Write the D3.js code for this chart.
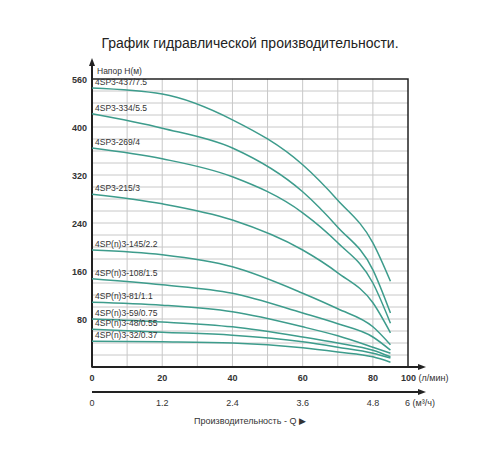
<!DOCTYPE html>
<html><head><meta charset="utf-8">
<script src="https://cdn.jsdelivr.net/npm/d3@7"></script>
<style>body{margin:0;background:#fff}text{font-family:Arial,"Liberation Sans",sans-serif}</style>
</head><body><svg id="c" width="500" height="450"></svg>
<script>
const flows=[0,20,40,60,70,80,85];
const names=["4SP3-437/7.5","4SP3-334/5.5","4SP3-269/4","4SP3-215/3","4SP(n)3-145/2.2","4SP(n)3-108/1.5","4SP(n)3-81/1.1","4SP(n)3-59/0.75","4SP(n)3-48/0.55","4SP(n)3-32/0.37"];
const heads=[
[465,455,412,337,278,207,143],
[422,398,365,292,233,162,90],
[365,347,317,257,207,140,73],
[288,272,245,195,157,107,57],
[195,187,167,123,97,67,37],
[147,137,123,90,72,50,28],
[108,103,92,67,52,33,23],
[80,75,67,50,40,28,17],
[63,58,53,42,33,23,15],
[43,42,40,32,25,17,8]];
const xTicks=[0,20,40,60,80],xTickLabels=["0","20","40","60","80"];
const x2Labels=["0","1.2","2.4","3.6","4.8"];
const yTicks=[80,160,240,320,400,480],yTickLabels=["80","160","240","320","400","560"];

const svg=d3.select("#c");
const x=d3.scaleLinear().domain([0,90]).range([92,408]);
const y=d3.scaleLinear().domain([0,480]).range([367,79]);
const g=svg.append("g");
for(let v=10;v<90;v+=10) g.append("line").attr("x1",x(v)).attr("x2",x(v)).attr("y1",y(0)).attr("y2",y(480)).attr("stroke","#c8c8c8");
for(let v=20;v<480;v+=20) g.append("line").attr("x1",x(0)).attr("x2",x(90)).attr("y1",y(v)).attr("y2",y(v)).attr("stroke","#c8c8c8");
g.append("rect").attr("x",x(0)).attr("y",y(480)).attr("width",x(90)-x(0)).attr("height",y(0)-y(480)).attr("fill","none").attr("stroke","#222").attr("stroke-width",1.5);
g.append("line").attr("x1",x(0)).attr("x2",x(0)).attr("y1",y(0)).attr("y2",62).attr("stroke","#222").attr("stroke-width",2);
g.append("path").attr("d",`M${x(0)-3},66L${x(0)},58L${x(0)+3},66Z`).attr("fill","#222");
g.append("line").attr("x1",x(0)).attr("x2",420).attr("y1",y(0)).attr("y2",y(0)).attr("stroke","#222").attr("stroke-width",2);
g.append("path").attr("d",`M418,${y(0)-3}L426,${y(0)}L418,${y(0)+3}Z`).attr("fill","#222");
g.append("line").attr("x1",x(0)).attr("x2",420).attr("y1",392).attr("y2",392).attr("stroke","#222").attr("stroke-width",2);
g.append("path").attr("d",`M418,389L426,392L418,395Z`).attr("fill","#222");
yTicks.forEach((v,i)=>g.append("text").attr("x",x(0)-5).attr("y",y(v)+4).attr("text-anchor","end").attr("font-size",9).attr("font-weight","bold").attr("fill","#333").text(yTickLabels[i]));
xTicks.forEach((v,i)=>{
 g.append("text").attr("x",x(v)).attr("y",381).attr("text-anchor","middle").attr("font-size",9).attr("font-weight","bold").attr("fill","#333").text(xTickLabels[i]);
 g.append("text").attr("x",x(v)).attr("y",406).attr("text-anchor","middle").attr("font-size",9).attr("fill","#333").text(x2Labels[i]);
});
g.append("text").attr("x",x(90)-7).attr("y",381).attr("font-size",9).attr("fill","#333").html('<tspan font-weight="bold">100</tspan> (л/мин)');
g.append("text").attr("x",x(90)-3).attr("y",406).attr("font-size",9).attr("fill","#333").text("6  (м³/ч)");
g.append("text").attr("x",x(0)+5).attr("y",74).attr("font-size",8.5).attr("fill","#333").text("Напор H(м)");
g.append("text").attr("x",250).attr("y",424).attr("text-anchor","middle").attr("font-size",9).attr("fill","#333").text("Производительность - Q ▶");
svg.append("text").attr("x",250).attr("y",48).attr("text-anchor","middle").attr("font-size",14).attr("fill","#222").text("График гидравлической производительности.");
const line=d3.line().x((d,i)=>x(flows[i])).y(d=>y(d)).curve(d3.curveMonotoneX);
heads.forEach((h,k)=>{
 g.append("path").attr("d",line(h)).attr("fill","none").attr("stroke","#3d9c8c").attr("stroke-width",1.5);
 g.append("text").attr("x",x(0)+3).attr("y",y(h[0])-3).attr("font-size",8.5).attr("fill","#333").text(names[k]);
});
</script></body></html>
